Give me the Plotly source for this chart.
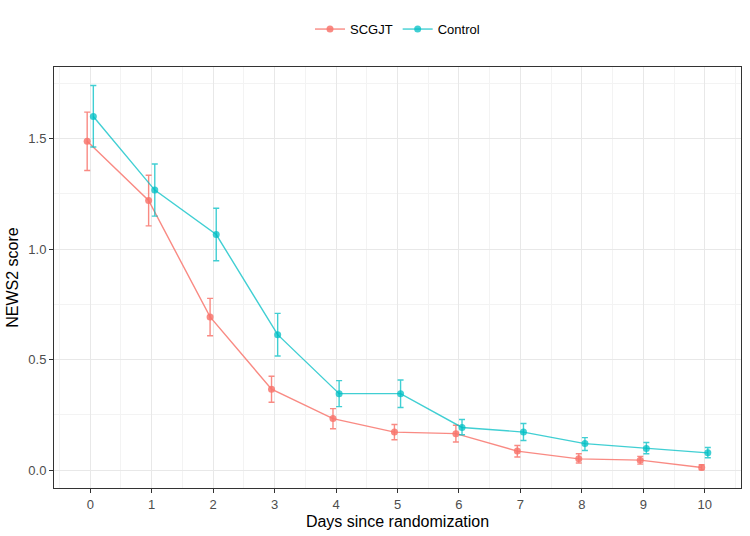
import plotly.graph_objects as go

days = [0, 1, 2, 3, 4, 5, 6, 7, 8, 9, 10]

scgjt_mean = [1.488, 1.220, 0.693, 0.366, 0.233, 0.172, 0.165, 0.086, 0.051, 0.045, 0.012]
scgjt_hi = [1.620, 1.334, 0.777, 0.425, 0.278, 0.206, 0.203, 0.111, 0.074, 0.062, 0.024]
scgjt_lo = [1.356, 1.105, 0.608, 0.307, 0.187, 0.137, 0.127, 0.059, 0.032, 0.027, 0.001]

ctrl_mean = [1.600, 1.267, 1.066, 0.613, 0.346, 0.346, 0.193, 0.172, 0.120, 0.098, 0.078]
ctrl_hi = [1.740, 1.385, 1.185, 0.709, 0.405, 0.408, 0.229, 0.211, 0.147, 0.125, 0.102]
ctrl_lo = [1.462, 1.149, 0.947, 0.516, 0.287, 0.283, 0.160, 0.134, 0.089, 0.074, 0.056]

series = [
    ("SCGJT", scgjt_mean, scgjt_hi, scgjt_lo, "rgba(248,118,109,0.85)", -0.05),
    ("Control", ctrl_mean, ctrl_hi, ctrl_lo, "rgba(0,191,196,0.75)", 0.05),
]

fig = go.Figure()
for name, m, hi, lo, col, off in series:
    fig.add_trace(go.Scatter(
        x=[d + off for d in days], y=m, name=name, mode="lines+markers",
        line=dict(color=col, width=1.4),
        marker=dict(color=col, size=7),
        error_y=dict(type="data", symmetric=False,
                     array=[h - v for h, v in zip(hi, m)],
                     arrayminus=[v - l for v, l in zip(m, lo)],
                     color=col, thickness=1.4, width=3),
    ))

axis_common = dict(
    showline=True, mirror=True, linecolor="#333333", linewidth=1,
    ticks="outside", ticklen=4, tickcolor="#333333", tickwidth=1,
    gridcolor="#E8E8E8", gridwidth=1, zeroline=False,
    tickfont=dict(family="Liberation Sans, Arial", size=13, color="#4D4D4D"),
    title_font=dict(family="Liberation Sans, Arial", size=16, color="#000000"),
)

fig.update_xaxes(
    range=[-0.59, 10.59], tickmode="array", tickvals=days,
    ticktext=[str(d) for d in days],
    minor=dict(showgrid=True, gridcolor="#F3F3F3", tickmode="array",
               tickvals=[d + 0.5 for d in range(-1, 11)], ticks=""),
    title=dict(text="Days since randomization", standoff=5),
    **axis_common,
)
fig.update_yaxes(
    range=[-0.081, 1.824], tickmode="array", tickvals=[0, 0.5, 1.0, 1.5],
    ticktext=["0.0", "0.5", "1.0", "1.5"],
    minor=dict(showgrid=True, gridcolor="#F3F3F3", tickmode="array",
               tickvals=[0.25, 0.75, 1.25, 1.75], ticks=""),
    title=dict(text="NEWS2 score", standoff=5),
    **axis_common,
)

fig.update_layout(
    width=750, height=536,
    margin=dict(l=54, r=9, t=67, b=48),
    plot_bgcolor="white", paper_bgcolor="white",
    font=dict(family="Liberation Sans, Arial", size=13, color="#000000"),
    legend=dict(orientation="h", x=0.5, xanchor="center", y=1.09, yanchor="middle",
                font=dict(size=13, color="#000000"), itemwidth=30,
                bgcolor="rgba(0,0,0,0)"),
    showlegend=True,
)

fig.write_html("out.html")
